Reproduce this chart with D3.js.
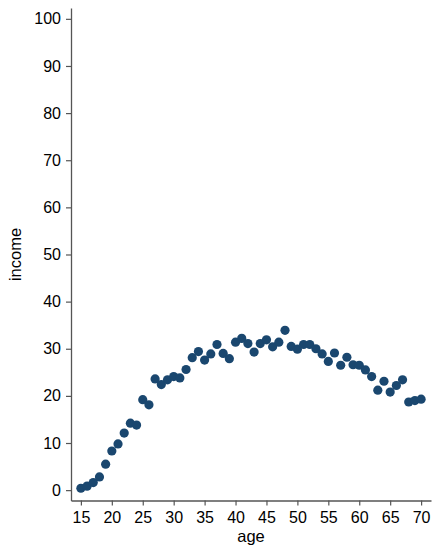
<!DOCTYPE html>
<html>
<head>
<meta charset="utf-8">
<script src="https://cdn.jsdelivr.net/npm/d3@7"></script>
<style>
  body { margin: 0; background: #fff; }
  svg { display: block; font-family: "Liberation Sans", Arial, sans-serif; }
</style>
</head>
<body>
<div id="chart"></div>
<script>
const ages = [15, 16, 17, 18, 19, 20, 21, 22, 23, 24, 25, 26, 27, 28, 29, 30, 31, 32, 33, 34,
    35, 36, 37, 38, 39, 40, 41, 42, 43, 44, 45, 46, 47, 48, 49, 50, 51, 52, 53, 54,
    55, 56, 57, 58, 59, 60, 61, 62, 63, 64, 65, 66, 67, 68, 69, 70];
const income = [0.4, 0.85, 1.6, 2.8, 5.5, 8.3, 9.8, 12.1, 14.2, 13.8, 19.2, 18.1, 23.6, 22.4, 23.4, 24.1, 23.8, 25.6, 28.1, 29.4,
    27.6, 28.9, 30.9, 29.0, 27.9, 31.4, 32.2, 31.1, 29.3, 31.1, 31.9, 30.4, 31.4, 33.9, 30.5, 29.9, 30.9, 30.9, 30.0, 28.9,
    27.3, 29.1, 26.5, 28.2, 26.6, 26.5, 25.5, 24.1, 21.2, 23.1, 20.8, 22.2, 23.4, 18.7, 19.0, 19.3];
const xTicks = [15, 20, 25, 30, 35, 40, 45, 50, 55, 60, 65, 70];
const yTicks = [0, 10, 20, 30, 40, 50, 60, 70, 80, 90, 100];

const width = 432, height = 546;
const margin = { top: 8, right: 1, bottom: 45.5, left: 71 };

const data = ages.map((a, i) => ({ age: a, income: income[i] }));

const svg = d3.select("#chart").append("svg")
    .attr("width", width)
    .attr("height", height);

const x = d3.scaleLinear()
    .domain([13.4, 71.6])
    .range([margin.left, width - margin.right]);

const y = d3.scaleLinear()
    .domain([-2.2, 102.3])
    .range([height - margin.bottom, margin.top]);

const axisCol = "#555";

// X axis
const xAxis = svg.append("g")
    .attr("transform", `translate(0,${height - margin.bottom})`)
    .call(d3.axisBottom(x).tickValues(xTicks).tickSize(5).tickSizeOuter(0).tickPadding(6));
xAxis.select(".domain").attr("stroke", axisCol).attr("stroke-width", 1.3);
xAxis.selectAll(".tick line").attr("stroke", axisCol).attr("stroke-width", 1.2);
xAxis.selectAll("text").attr("font-size", 16).attr("fill", "#000")
    .attr("font-family", "Liberation Sans, Arial, sans-serif");

// Y axis
const yAxis = svg.append("g")
    .attr("transform", `translate(${margin.left},0)`)
    .call(d3.axisLeft(y).tickValues(yTicks).tickSize(5).tickSizeOuter(0).tickPadding(5));
yAxis.select(".domain").attr("stroke", axisCol).attr("stroke-width", 1.3);
yAxis.selectAll(".tick line").attr("stroke", axisCol).attr("stroke-width", 1.2);
yAxis.selectAll("text").attr("font-size", 16).attr("fill", "#000")
    .attr("font-family", "Liberation Sans, Arial, sans-serif");

// Points
svg.append("g")
    .selectAll("circle")
    .data(data)
    .enter()
    .append("circle")
    .attr("cx", d => x(d.age))
    .attr("cy", d => y(d.income))
    .attr("r", 4.6)
    .attr("fill", "#1a476f");

// X-axis label
svg.append("text")
    .attr("text-anchor", "middle")
    .attr("x", (x(15) + x(70)) / 2)
    .attr("y", 542)
    .attr("font-size", 16.5)
    .text("age");

// Y-axis label
svg.append("text")
    .attr("text-anchor", "middle")
    .attr("transform", "rotate(-90)")
    .attr("x", -y(50))
    .attr("y", 21)
    .attr("font-size", 16.5)
    .text("income");
</script>
</body>
</html>
